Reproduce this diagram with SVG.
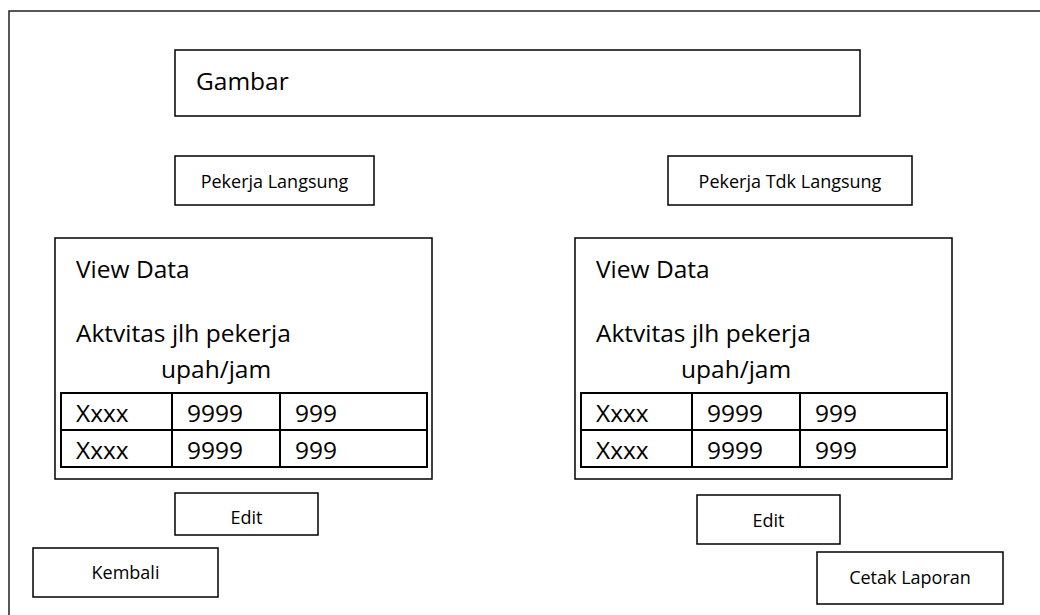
<svg xmlns="http://www.w3.org/2000/svg" width="1040" height="615" viewBox="0 0 1040 615">
<style>
.box{fill:#fff;stroke:#000;stroke-width:1.5}
.tbl{fill:none;stroke:#000;stroke-width:2}
.big{font-family:"Open Sans","Liberation Sans",sans-serif;font-size:24.5px;fill:#000}
.sm{font-family:"Open Sans","Liberation Sans",sans-serif;font-size:18px;fill:#000;text-anchor:middle}
</style>
<rect width="1040" height="615" fill="#fff"/>
<rect id="frame" x="9" y="11" width="1040" height="620" fill="none" stroke="#222" stroke-width="1.5"/>
<g id="gambar">
<rect class="box" x="175" y="50" width="685" height="66"/>
<text class="big" x="196" y="90">Gambar</text>
</g>
<g id="btn-langsung">
<rect class="box" x="175" y="156" width="199" height="49"/>
<text class="sm" x="274.5" y="188">Pekerja Langsung</text>
</g>
<g id="btn-tdk-langsung">
<rect class="box" x="668" y="156" width="244" height="49"/>
<text class="sm" x="790" y="188">Pekerja Tdk Langsung</text>
</g>
<g id="panel-left">
<rect class="box" x="55" y="238" width="377" height="241"/>
<text class="big" x="76" y="278">View Data</text>
<text class="big" x="76" y="342">Aktvitas jlh pekerja</text>
<text class="big" x="161" y="378">upah/jam</text>
<rect class="tbl" x="61" y="393" width="366" height="74"/>
<line class="tbl" x1="61" y1="430" x2="427" y2="430"/>
<line class="tbl" x1="172" y1="393" x2="172" y2="467"/>
<line class="tbl" x1="280" y1="393" x2="280" y2="467"/>
<text class="big" x="76" y="422">Xxxx</text>
<text class="big" x="187" y="422">9999</text>
<text class="big" x="295" y="422">999</text>
<text class="big" x="76" y="459">Xxxx</text>
<text class="big" x="187" y="459">9999</text>
<text class="big" x="295" y="459">999</text>
</g>
<g id="panel-right">
<rect class="box" x="575" y="238" width="377" height="241"/>
<text class="big" x="596" y="278">View Data</text>
<text class="big" x="596" y="342">Aktvitas jlh pekerja</text>
<text class="big" x="681" y="378">upah/jam</text>
<rect class="tbl" x="581" y="393" width="366" height="74"/>
<line class="tbl" x1="581" y1="430" x2="947" y2="430"/>
<line class="tbl" x1="692" y1="393" x2="692" y2="467"/>
<line class="tbl" x1="800" y1="393" x2="800" y2="467"/>
<text class="big" x="596" y="422">Xxxx</text>
<text class="big" x="707" y="422">9999</text>
<text class="big" x="815" y="422">999</text>
<text class="big" x="596" y="459">Xxxx</text>
<text class="big" x="707" y="459">9999</text>
<text class="big" x="815" y="459">999</text>
</g>
<g id="btn-edit-left">
<rect class="box" x="175" y="493" width="143" height="42"/>
<text class="sm" x="246.5" y="524">Edit</text>
</g>
<g id="btn-kembali">
<rect class="box" x="33" y="548" width="185" height="49"/>
<text class="sm" x="125.5" y="579">Kembali</text>
</g>
<g id="btn-edit-right">
<rect class="box" x="697" y="495" width="143" height="49"/>
<text class="sm" x="768.5" y="527">Edit</text>
</g>
<g id="btn-cetak">
<rect class="box" x="817" y="552" width="186" height="52"/>
<text class="sm" x="910" y="584">Cetak Laporan</text>
</g>
<g id="connectors"/>
</svg>
